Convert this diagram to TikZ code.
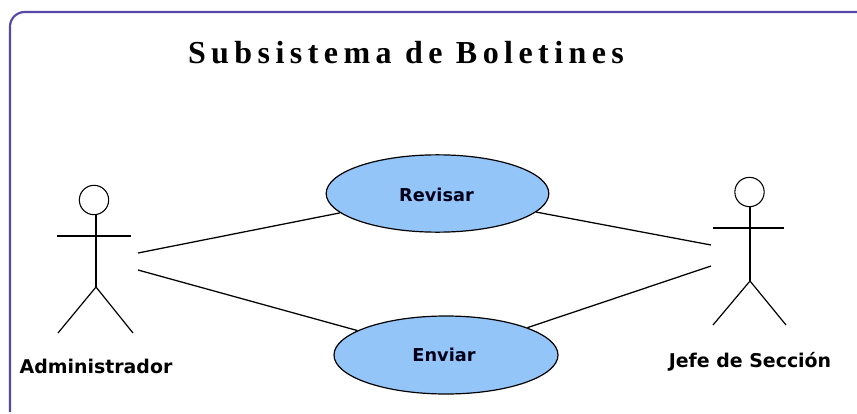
\documentclass[tikz,border=0pt]{standalone}
\usepackage{fontspec}
\setmainfont{DejaVu Sans}
\newfontfamily\titlefont[LetterSpace=17]{Liberation Serif}
\usetikzlibrary{shapes.geometric}
\definecolor{ucblue}{HTML}{94C5F8}
\definecolor{framecol}{HTML}{5548A8}
\tikzset{
  x=0.75pt,y=-0.75pt,
  usecase/.style={ellipse,draw=black,line width=0.9pt,fill=ucblue,inner sep=0pt},
  uctext/.style={inner sep=0pt,text=black!90!blue,font=\fontsize{13.3}{15}\selectfont\bfseries},
  head/.style={circle,draw=black,line width=0.8pt,inner sep=0pt,minimum size=22pt},
  stick/.style={draw=black,line width=0.9pt},
  assoc/.style={draw=black,line width=0.95pt},
  actorname/.style={font=\fontsize{14.2}{16}\selectfont\bfseries,inner sep=0pt},
}
\begin{document}
\begin{tikzpicture}
\useasboundingbox (0,0) rectangle (857,414);
\draw[framecol,line width=1.6pt,rounded corners=11pt] (10,412) -- (10,12) -- (857,12);
\node[font=\fontsize{24}{28}\selectfont\titlefont\bfseries,inner sep=0pt,anchor=base] (title) at (406,63) {Subsistema de Boletines};
\node[usecase,minimum width=167pt,minimum height=58pt] (rev) at (437.5,193.5) {};
\node[uctext] (revt) at (436.5,195) {Revisar};
\node[usecase,minimum width=168pt,minimum height=58.5pt] (env) at (446,355) {};
\node[uctext] (envt) at (444,355) {Enviar};
% actor left
\node[head] (h1) at (94,200) {};
\coordinate (a1neck) at (96,214);
\coordinate (a1hip) at (96,287);
\coordinate (a1arml) at (57,236);
\coordinate (a1armr) at (131,236);
\coordinate (a1legl) at (58,333);
\coordinate (a1legr) at (133,333);
\draw[stick] (a1neck) -- (a1hip);
\draw[stick] (a1arml) -- (a1armr);
\draw[stick] (a1legl) -- (a1hip) -- (a1legr);
\node[actorname] (a1) at (96,366.5) {Administrador};
% actor right
\node[head] (h2) at (749.5,192) {};
\coordinate (a2neck) at (750,207);
\coordinate (a2hip) at (750,281);
\coordinate (a2arml) at (713,228);
\coordinate (a2armr) at (784,228);
\coordinate (a2legl) at (713,325);
\coordinate (a2legr) at (786,325);
\draw[stick] (a2neck) -- (a2hip);
\draw[stick] (a2arml) -- (a2armr);
\draw[stick] (a2legl) -- (a2hip) -- (a2legr);
\node[actorname] (a2) at (750,362) {Jefe de Sección};
% associations
\coordinate (p1) at (138,253);
\coordinate (p2) at (138,270);
\coordinate (p3) at (711,245);
\coordinate (p4) at (711,266);
\draw[assoc] (p1) -- (rev);
\draw[assoc] (p2) -- (env);
\draw[assoc] (p3) -- (rev);
\draw[assoc] (p4) -- (env);
\end{tikzpicture}
\end{document}
